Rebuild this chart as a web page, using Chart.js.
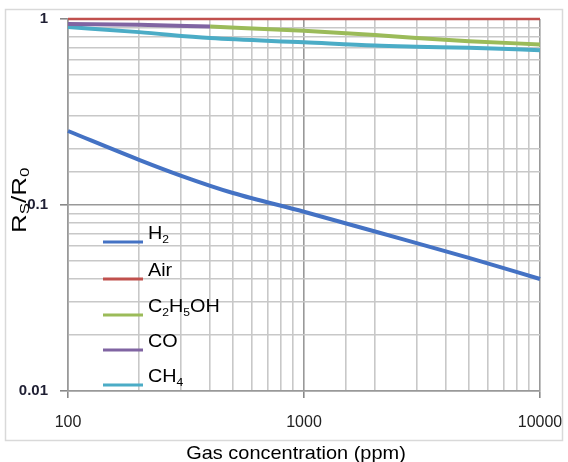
<!DOCTYPE html>
<html><head><meta charset="utf-8">
<script src="https://cdn.jsdelivr.net/npm/chart.js@4.4.1/dist/chart.umd.min.js"></script>
<style>html,body{margin:0;padding:0;background:#fff;}#wrap{width:568px;height:462px;position:relative}</style>
</head><body><div id="wrap"><canvas id="c"></canvas></div>
<script>
const seriesNames = ['H2', 'Air', 'C2H5OH', 'CO', 'CH4'];
const seriesColors = ['#4472C4', '#C0504D', '#9BBB59', '#8064A2', '#4BACC6'];
const h2X = [100, 200, 300, 500, 1000, 2000, 5000, 10000];
const h2Y = [0.25, 0.175, 0.144, 0.116, 0.092, 0.072, 0.052, 0.040];
const airX = [100, 10000];
const airY = [1, 1];
const ethX = [400, 1000, 2000, 3000, 5000, 10000];
const ethY = [0.91, 0.865, 0.82, 0.79, 0.76, 0.73];
const coX = [100, 200, 400];
const coY = [0.94, 0.93, 0.91];
const ch4X = [100, 200, 400, 1000, 2000, 3000, 5000, 10000];
const ch4Y = [0.905, 0.85, 0.79, 0.75, 0.72, 0.71, 0.70, 0.68];
const xTickLabels = ['100', '1000', '10000'];
const yTickLabels = ['0.01', '0.1', '1'];
const xTitle = 'Gas concentration (ppm)';
const yTitleParts = [['R', 0], ['S', 1], ['/R', 0], ['0', 1]];

const seriesX = [h2X, airX, ethX, coX, ch4X];
const seriesY = [h2Y, airY, ethY, coY, ch4Y];
const widths = [4, 2.5, 4, 4, 4];
const FONT = '"Liberation Sans", Arial, sans-serif';

function isMajor(v) { const l = Math.log10(v); return Math.abs(l - Math.round(l)) < 1e-6; }
function findLabel(list, v) {
  for (const s of list) { if (Math.abs(parseFloat(s) - v) / v < 1e-6) return s; }
  return '';
}

const datasets = seriesNames.map((n, i) => ({
  label: n,
  data: seriesX[i].map((x, j) => ({ x: x, y: seriesY[i][j] })),
  borderColor: seriesColors[i],
  backgroundColor: seriesColors[i],
  borderWidth: widths[i],
  pointRadius: 0,
  cubicInterpolationMode: 'monotone',
  fill: false,
  clip: 6
}));

// draw text with digits as subscripts, horizontally stretched by sx
function drawRich(ctx, text, x, y, size, sx) {
  ctx.save();
  ctx.translate(x, y);
  ctx.scale(sx, 1);
  ctx.textBaseline = 'alphabetic';
  ctx.textAlign = 'left';
  let cx = 0;
  for (const ch of text) {
    const sub = /[0-9]/.test(ch);
    ctx.font = (sub ? Math.round(size * 0.62) : size) + 'px ' + FONT;
    ctx.fillText(ch, cx, sub ? size * 0.2 : 0);
    cx += ctx.measureText(ch).width;
  }
  ctx.restore();
}

const decor = {
  id: 'decor',
  afterDraw(chart) {
    const ctx = chart.ctx;
    ctx.save();
    // outer frame
    ctx.strokeStyle = '#d9d9d9';
    ctx.lineWidth = 1.5;
    ctx.strokeRect(5.5, 9.5, 557, 431);
    // legend
    const lineY = [242, 279, 315, 350, 385];
    seriesNames.forEach((n, i) => {
      ctx.strokeStyle = seriesColors[i];
      ctx.lineWidth = 3;
      ctx.beginPath();
      ctx.moveTo(103, lineY[i]);
      ctx.lineTo(143, lineY[i]);
      ctx.stroke();
      ctx.fillStyle = '#000';
      drawRich(ctx, n, 148, lineY[i] - 3, 18, 1.1);
    });
    // x title
    ctx.fillStyle = '#000';
    ctx.save();
    ctx.font = '19px ' + FONT;
    ctx.textAlign = 'center';
    ctx.textBaseline = 'alphabetic';
    ctx.translate(296, 459);
    ctx.scale(1.05, 1);
    ctx.fillText(xTitle, 0, 0);
    ctx.restore();
    // y title
    ctx.save();
    ctx.translate(26, 233);
    ctx.rotate(-Math.PI / 2);
    ctx.scale(1.3, 1);
    let cx = 0;
    ctx.textAlign = 'left';
    ctx.textBaseline = 'alphabetic';
    for (const [t, sub] of yTitleParts) {
      const sz = sub ? 13 : 20;
      ctx.font = sz + 'px ' + FONT;
      ctx.fillText(t, cx, sub ? 3 : 0);
      cx += ctx.measureText(t).width;
    }
    ctx.restore();
    ctx.restore();
  }
};

new Chart(document.getElementById('c'), {
  type: 'line',
  data: { datasets: datasets },
  plugins: [decor],
  options: {
    responsive: true,
    maintainAspectRatio: false,
    animation: false,
    devicePixelRatio: 1,
    layout: { padding: { top: 19, right: 28, left: 0, bottom: 0 } },
    plugins: { legend: { display: false }, tooltip: { enabled: false } },
    scales: {
      x: {
        type: 'logarithmic', min: 100, max: 10000,
        grid: {
          color: c => (c.tick && isMajor(c.tick.value)) ? '#999999' : '#c8c8c8',
          lineWidth: 1.6,
          tickLength: 7,
          tickColor: c => (c.tick && isMajor(c.tick.value)) ? '#888' : 'rgba(0,0,0,0)'
        },
        border: { color: '#999', width: 1.5 },
        ticks: {
          autoSkip: false, maxRotation: 0, padding: 15,
          color: '#222',
          font: { family: FONT, size: 16 },
          callback: v => findLabel(xTickLabels, v)
        },
        afterFit: s => { s.height = 71; s.paddingLeft = 0; s.paddingRight = 0; }
      },
      y: {
        type: 'logarithmic', min: 0.01, max: 1,
        grid: {
          color: c => (c.tick && isMajor(c.tick.value)) ? '#999999' : '#c8c8c8',
          lineWidth: 1.6,
          tickLength: 8,
          tickColor: c => (c.tick && isMajor(c.tick.value)) ? '#888' : 'rgba(0,0,0,0)'
        },
        border: { color: '#999', width: 1.5 },
        ticks: {
          autoSkip: false, padding: 12,
          color: '#1f1f33',
          font: { family: FONT, size: 15, weight: 'bold' },
          callback: v => findLabel(yTickLabels, v)
        },
        afterFit: s => { s.width = 68; s.paddingTop = 0; s.paddingBottom = 0; }
      }
    }
  }
});
</script></body></html>
